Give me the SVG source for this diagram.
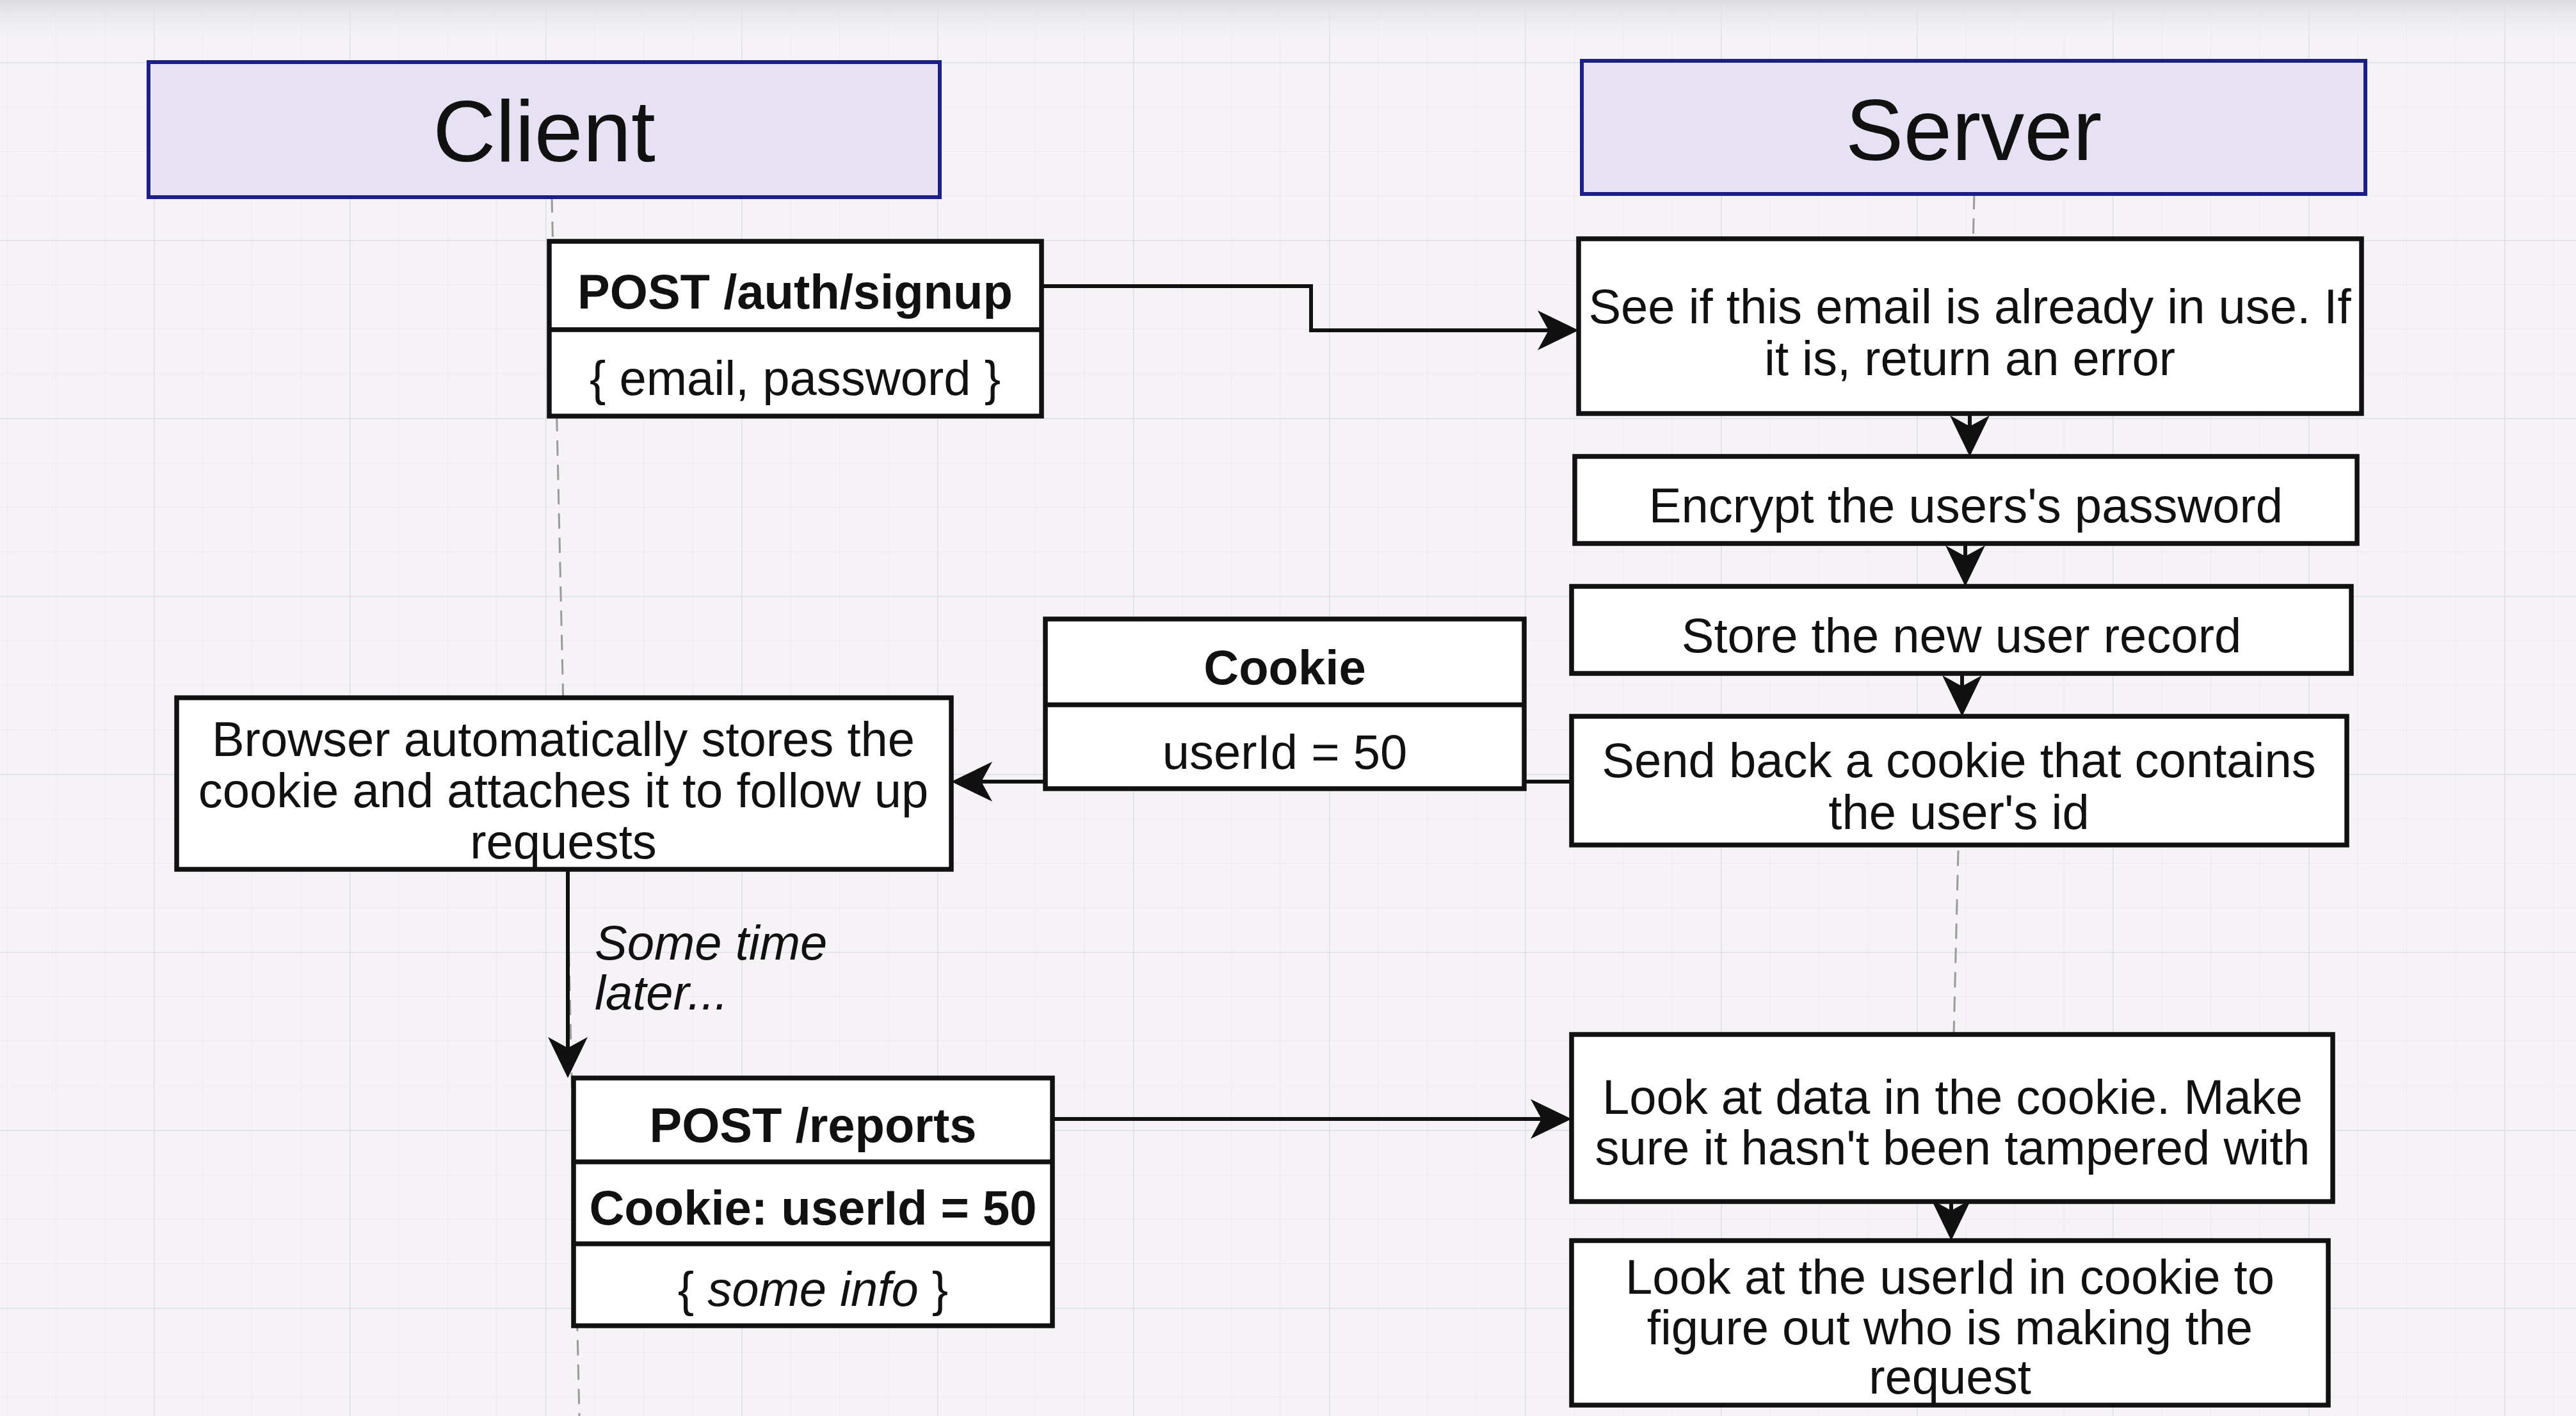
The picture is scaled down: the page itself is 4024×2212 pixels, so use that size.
<svg xmlns="http://www.w3.org/2000/svg" width="4024" height="2212" viewBox="0 0 4024 2212">
<style>
.hdr{fill:#e6e1f3;stroke:#1c1f8a;stroke-width:6}
.box{fill:#ffffff;stroke:#111111;stroke-width:7.5}
.div{stroke:#111111;stroke-width:7.5}
.t{font-family:"Liberation Sans",Arial,Helvetica,sans-serif;font-size:76px;fill:#111111;text-anchor:middle}
.b{font-weight:bold}
.i{font-style:italic}
.s{text-anchor:start}
.h{font-family:"Liberation Sans",Arial,Helvetica,sans-serif;font-size:136px;fill:#111111;text-anchor:middle}
.edge{fill:none;stroke:#111111;stroke-width:6}
.life{fill:none;stroke:#9a9a9a;stroke-width:3;stroke-dasharray:24 14}
</style>
<defs>
<marker id="arr" viewBox="-36 -34 70 68" refX="0" refY="0" markerWidth="70" markerHeight="68" markerUnits="userSpaceOnUse" orient="auto">
<path d="M30,0 L-34,-31 L-17,0 L-34,31 Z" fill="#111111"/>
</marker>
<pattern id="minor" width="76.5" height="69.5" patternUnits="userSpaceOnUse" patternTransform="translate(240,97)">
<path d="M0,0 V69.5 M0,0 H76.5" fill="none" stroke="#eceaef" stroke-width="2"/>
</pattern>
<pattern id="major" width="306" height="278" patternUnits="userSpaceOnUse" patternTransform="translate(240,97)">
<path d="M0,0 V278 M0,0 H306" fill="none" stroke="#e0dee5" stroke-width="3"/>
</pattern>
<linearGradient id="topband" x1="0" y1="0" x2="0" y2="1">
<stop offset="0" stop-color="#dcdcdf"/>
<stop offset="1" stop-color="#f4f2f5" stop-opacity="0"/>
</linearGradient>
</defs>
<rect x="0" y="0" width="4024" height="2212" fill="#f5f3f6"/>
<rect x="0" y="0" width="4024" height="2212" fill="url(#minor)"/>
<rect x="0" y="0" width="4024" height="2212" fill="url(#major)"/>
<rect x="0" y="0" width="4024" height="70" fill="url(#topband)"/>

<g id="lifelines">
<line class="life" x1="862" y1="308" x2="905" y2="2212"/>
<line class="life" x1="3084" y1="303" x2="3052" y2="1616"/>
</g>

<g id="connectors">
<polyline class="edge" points="1627,447 2048,447 2048,516 2436,516" marker-end="url(#arr)"/>
<line class="edge" x1="3077" y1="646" x2="3077" y2="683" marker-end="url(#arr)"/>
<line class="edge" x1="3070" y1="849" x2="3070" y2="886" marker-end="url(#arr)"/>
<line class="edge" x1="3065" y1="1052" x2="3065" y2="1089" marker-end="url(#arr)"/>
<line class="edge" x1="2455" y1="1221" x2="1516" y2="1221" marker-end="url(#arr)"/>
<line class="edge" x1="887" y1="1358" x2="887" y2="1654" marker-end="url(#arr)"/>
<line class="edge" x1="1644" y1="1748" x2="2425" y2="1748" marker-end="url(#arr)"/>
<line class="edge" x1="3048" y1="1877" x2="3048" y2="1908" marker-end="url(#arr)"/>
</g>

<g id="client-header">
<rect class="hdr" x="232" y="97" width="1236" height="211"/>
<text class="h" x="850" y="252">Client</text>
</g>

<g id="server-header">
<rect class="hdr" x="2471" y="95" width="1224" height="208"/>
<text class="h" x="3083" y="250">Server</text>
</g>

<g id="post-signup">
<rect class="box" x="858" y="377" width="769" height="273"/>
<line class="div" x1="858" y1="515" x2="1627" y2="515"/>
<text class="t b" x="1242" y="482">POST /auth/signup</text>
<text class="t" x="1242" y="617">{ email, password }</text>
</g>

<g id="check-email">
<rect class="box" x="2466" y="373" width="1223" height="273"/>
<text class="t" x="3077" y="505">See if this email is already in use. If</text>
<text class="t" x="3077" y="586">it is, return an error</text>
</g>

<g id="encrypt">
<rect class="box" x="2460" y="713" width="1222" height="136"/>
<text class="t" x="3071" y="816">Encrypt the users's password</text>
</g>

<g id="store">
<rect class="box" x="2455" y="916" width="1218" height="136"/>
<text class="t" x="3064" y="1019">Store the new user record</text>
</g>

<g id="send-cookie">
<rect class="box" x="2455" y="1119" width="1211" height="201"/>
<text class="t" x="3060" y="1214">Send back a cookie that contains</text>
<text class="t" x="3060" y="1295">the user's id</text>
</g>

<g id="cookie">
<rect class="box" x="1633" y="967" width="748" height="265"/>
<line class="div" x1="1633" y1="1101" x2="2381" y2="1101"/>
<text class="t b" x="2007" y="1069">Cookie</text>
<text class="t" x="2007" y="1201">userId = 50</text>
</g>

<g id="browser">
<rect class="box" x="276" y="1090" width="1210" height="268"/>
<text class="t" x="880" y="1181">Browser automatically stores the</text>
<text class="t" x="880" y="1261">cookie and attaches it to follow up</text>
<text class="t" x="880" y="1341">requests</text>
</g>

<g id="later-label">
<text class="t i s" x="929" y="1499">Some time</text>
<text class="t i s" x="929" y="1577">later...</text>
</g>

<g id="post-reports">
<rect class="box" x="896" y="1684" width="748" height="387"/>
<line class="div" x1="896" y1="1815" x2="1644" y2="1815"/>
<line class="div" x1="896" y1="1943" x2="1644" y2="1943"/>
<text class="t b" x="1270" y="1784">POST /reports</text>
<text class="t b" x="1270" y="1913">Cookie: userId = 50</text>
<text class="t" x="1270" y="2040">{ <tspan class="i">some info</tspan> }</text>
</g>

<g id="check-cookie">
<rect class="box" x="2455" y="1616" width="1189" height="261"/>
<text class="t" x="3050" y="1740">Look at data in the cookie. Make</text>
<text class="t" x="3050" y="1819">sure it hasn't been tampered with</text>
</g>

<g id="identify-user">
<rect class="box" x="2455" y="1938" width="1182" height="257"/>
<text class="t" x="3046" y="2021">Look at the userId in cookie to</text>
<text class="t" x="3046" y="2100">figure out who is making the</text>
<text class="t" x="3046" y="2177">request</text>
</g>
</svg>
